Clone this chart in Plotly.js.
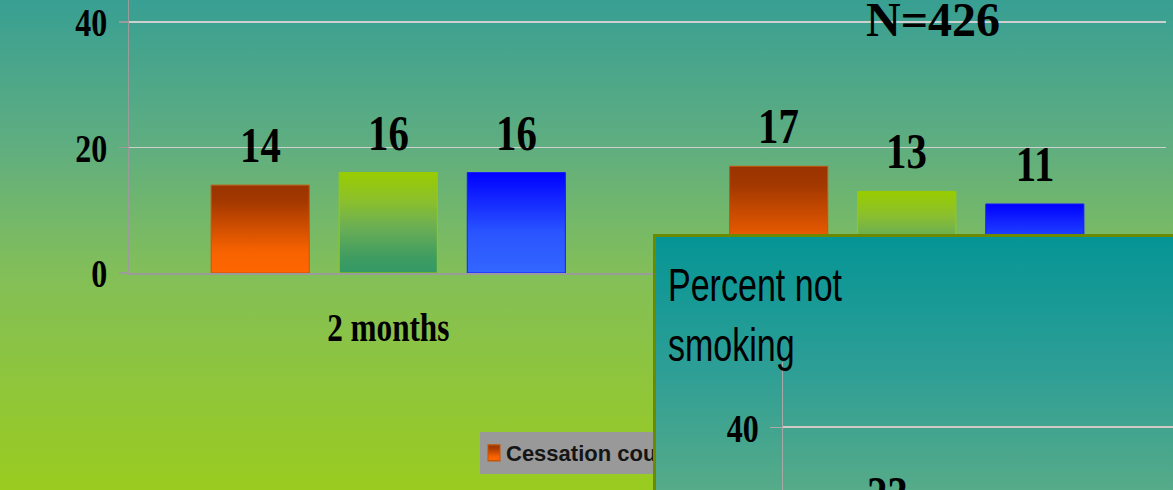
<!DOCTYPE html>
<html>
<head>
<meta charset="utf-8">
<script src="https://cdn.plot.ly/plotly-3.0.1.min.js"></script>
<style>
  html, body { margin: 0; padding: 0; width: 1173px; height: 490px; overflow: hidden; }
  body {
    position: relative;
    background: linear-gradient(180deg, #389f93 0%, #60ae80 30%, #83bf58 56%, #9acc1f 100%);
  }
  #main { position: absolute; left: 0; top: 0; width: 1173px; height: 490px; }
  #inset {
    position: absolute; left: 653px; top: 234px;
    width: 543px; height: 560px;
    border: 3px solid #6b8a00;
    background: linear-gradient(180deg, #059595 0px, #2c9e96 128px, #57ab88 256px, #8cc15c 560px);
  }
  #insetPlot { width: 543px; height: 560px; }
</style>
</head>
<body>
<svg width="0" height="0" style="position:absolute">
  <defs>
    <linearGradient id="gradOrange" x1="0" y1="0" x2="0" y2="1">
      <stop offset="0" stop-color="#993300"/>
      <stop offset="0.18" stop-color="#a33800"/>
      <stop offset="0.75" stop-color="#f76200"/>
      <stop offset="1" stop-color="#ff6600"/>
    </linearGradient>
    <linearGradient id="gradGreen" x1="0" y1="0" x2="0" y2="1">
      <stop offset="0" stop-color="#99cc00"/>
      <stop offset="0.28" stop-color="#8cc02c"/>
      <stop offset="0.55" stop-color="#6aae55"/>
      <stop offset="0.85" stop-color="#3e9c62"/>
      <stop offset="1" stop-color="#339966"/>
    </linearGradient>
    <linearGradient id="gradBlue" x1="0" y1="0" x2="0" y2="1">
      <stop offset="0" stop-color="#0000ff"/>
      <stop offset="0.6" stop-color="#2a55ff"/>
      <stop offset="1" stop-color="#3366ff"/>
    </linearGradient>
  </defs>
</svg>
<div id="main"></div>
<div id="inset"><div id="insetPlot"></div></div>
<script>
// ---- data ----
const categories = ['2 months', '6 months'];
const seriesNames = ['Cessation counseling', 'Brief advice', 'Usual care'];
const counselingValues = [14, 17];
const briefAdviceValues = [16, 13];
const usualCareValues = [16, 11];
const yTickValues = [0, 20, 40];
const chartTitle = 'N=426';

const insetCategories = ['2 months', '6 months'];
const insetBarCategory = ['2 months'];
const insetValues = [23];
const insetTitle = 'Percent not<br>smoking';

// ---- styles ----
const gradientIds = ['gradOrange', 'gradGreen', 'gradBlue'];
const baseColors = ['#d45200', '#7ab540', '#1a40ff'];
const outlineColors = ['#c4560c', '#9acc00', '#1a1aff'];
const serif = 'Liberation Serif, Times New Roman, serif';
const sans = 'Liberation Sans, Arial, sans-serif';
const BARGAP = 0.259;
const BARGROUPGAP = 0.234;

const seriesValues = [counselingValues, briefAdviceValues, usualCareValues];

const traces = seriesValues.map((vals, i) => ({
  type: 'bar',
  name: seriesNames[i],
  x: categories,
  y: vals,
  showlegend: i === 0,
  marker: { color: baseColors[i], line: { color: outlineColors[i], width: 1 } },
  hoverinfo: 'skip'
}));

// value labels sit over the centre of each bar in its group
const slot = (1 - BARGAP) / seriesValues.length;
const valueLabels = [];
seriesValues.forEach((vals, i) => {
  vals.forEach((v, j) => {
    valueLabels.push({
      xref: 'x', yref: 'y',
      x: j + (i - (seriesValues.length - 1) / 2) * slot,
      y: v,
      text: String(v),
      showarrow: false,
      yanchor: 'bottom',
      yshift: 10,
      font: { family: serif, size: 51, weight: 'bold', color: '#000' }
    });
  });
});

const layout = {
  width: 1173, height: 490,
  margin: { l: 129, r: 7, t: 0, b: 217, pad: 0 },
  paper_bgcolor: 'rgba(0,0,0,0)',
  plot_bgcolor: 'rgba(0,0,0,0)',
  barmode: 'group',
  bargap: BARGAP,
  bargroupgap: BARGROUPGAP,
  title: {
    text: chartTitle,
    font: { family: serif, size: 48, weight: 'bold', color: '#000' },
    xref: 'container', yref: 'container',
    x: 933 / 1173, xanchor: 'center',
    y: 1 - 19 / 490, yanchor: 'middle',
    automargin: false
  },
  xaxis: {
    type: 'category',
    categoryorder: 'array', categoryarray: categories,
    range: [-0.5, 1.5],
    showline: true, linecolor: '#9b9b9b', linewidth: 2,
    ticks: '', showgrid: false, zeroline: false,
    ticklabelstandoff: 18,
    tickfont: { family: serif, size: 40, weight: 'bold', color: '#000' },
    fixedrange: true
  },
  yaxis: {
    range: [0, 43.5],
    tickvals: yTickValues,
    ticks: 'outside', ticklen: 9, tickwidth: 1.5, tickcolor: '#9b9b9b',
    showline: true, linecolor: '#9b9b9b', linewidth: 1.5,
    showgrid: true, gridcolor: '#cfcfcf', gridwidth: 1.5,
    zeroline: false,
    ticklabelstandoff: 3,
    ticklabeloverflow: 'allow',
    tickfont: { family: serif, size: 41, weight: 'bold', color: '#000' },
    fixedrange: true
  },
  showlegend: true,
  legend: {
    orientation: 'h',
    x: (480 - 129) / 1037, xanchor: 'left',
    y: -(432 - 273) / 273, yanchor: 'top',
    bgcolor: '#999999',
    font: { family: sans, size: 22, weight: 'bold', color: '#151515' }
  },
  annotations: valueLabels
};

const insetTrace = {
  type: 'bar',
  name: seriesNames[0],
  x: insetBarCategory,
  y: insetValues,
  marker: { color: baseColors[0], line: { color: outlineColors[0], width: 1 } },
  hoverinfo: 'skip'
};

const insetLayout = {
  width: 543, height: 560,
  margin: { l: 127, r: 0, t: 125, b: 119, pad: 0 },
  paper_bgcolor: 'rgba(0,0,0,0)',
  plot_bgcolor: 'rgba(0,0,0,0)',
  bargap: 0.5,
  showlegend: false,
  title: {
    text: insetTitle,
    font: { family: sans, size: 46, color: '#000' },
    xref: 'container', yref: 'container',
    x: 12 / 543, xanchor: 'left',
    y: 1 - 64 / 560, yanchor: 'top',
    automargin: false
  },
  xaxis: {
    type: 'category',
    categoryorder: 'array', categoryarray: insetCategories,
    range: [-0.5, 1.5],
    showline: true, linecolor: '#9b9b9b', linewidth: 2,
    ticks: '', showgrid: false, zeroline: false,
    tickfont: { family: serif, size: 40, weight: 'bold', color: '#000' },
    fixedrange: true
  },
  yaxis: {
    range: [0, 50.4],
    tickvals: yTickValues,
    ticks: 'outside', ticklen: 12, tickwidth: 1, tickcolor: '#b0a8a8',
    showline: true, linecolor: '#a8a8a8', linewidth: 1,
    showgrid: true, gridcolor: '#d2c8c8', gridwidth: 1.5,
    zeroline: false,
    ticklabelstandoff: 3,
    ticklabeloverflow: 'allow',
    tickfont: { family: serif, size: 41, weight: 'bold', color: '#000' },
    fixedrange: true
  },
  annotations: insetValues.map((v, j) => ({
    xref: 'x', yref: 'y',
    x: insetBarCategory[j], y: v,
    text: String(v),
    showarrow: false,
    yanchor: 'bottom',
    yshift: 10,
    font: { family: serif, size: 51, weight: 'bold', color: '#000' }
  }))
};

// narrow the condensed lettering horizontally around each text anchor
function condense(root, selector, sx) {
  root.querySelectorAll(selector).forEach(el => {
    if (!el.hasAttribute('data-base-tf')) {
      el.setAttribute('data-base-tf', el.getAttribute('transform') || '');
    }
    const x = parseFloat(el.getAttribute('x')) || 0;
    el.setAttribute('transform',
      el.getAttribute('data-base-tf') + ' translate(' + x + ',0) scale(' + sx + ',1) translate(' + (-x) + ',0)');
  });
}

// paint bars and legend swatches with the vertical gradients
function applyGradients(gd, ids) {
  gd.querySelectorAll('.barlayer .trace').forEach((tr, i) => {
    tr.querySelectorAll('.point path').forEach(p => { p.style.fill = 'url(#' + ids[i] + ')'; });
  });
  gd.querySelectorAll('.legend .traces').forEach((tr, i) => {
    tr.querySelectorAll('.legendpoints path').forEach(p => { p.style.fill = 'url(#' + ids[i] + ')'; });
  });
}

// pull the legend swatch and label closer to the box's left edge; swatch a little taller
function tightenLegend(gd) {
  gd.querySelectorAll('.legend .traces').forEach(tr => {
    const pts = tr.querySelector('.legendpoints');
    if (pts) pts.setAttribute('transform', (pts.getAttribute('transform') || '') + ' translate(-6,0) scale(1,1.33)');
    const txt = tr.querySelector('.legendtext');
    if (txt) txt.setAttribute('x', (parseFloat(txt.getAttribute('x')) || 0) - 14);
  });
}

const config = { staticPlot: true, displayModeBar: false };

Plotly.newPlot('main', traces, layout, config).then(gd => {
  applyGradients(gd, gradientIds);
  tightenLegend(gd);
  condense(gd, '.ytick text', 0.78);
  condense(gd, '.xtick text', 0.78);
  condense(gd, '.annotation-text', 0.8);
});

Plotly.newPlot('insetPlot', [insetTrace], insetLayout, config).then(gd => {
  applyGradients(gd, gradientIds);
  condense(gd, '.ytick text', 0.78);
  condense(gd, '.xtick text', 0.78);
  condense(gd, '.annotation-text', 0.8);
  condense(gd, '.gtitle', 0.74);
});
</script>
</body>
</html>
